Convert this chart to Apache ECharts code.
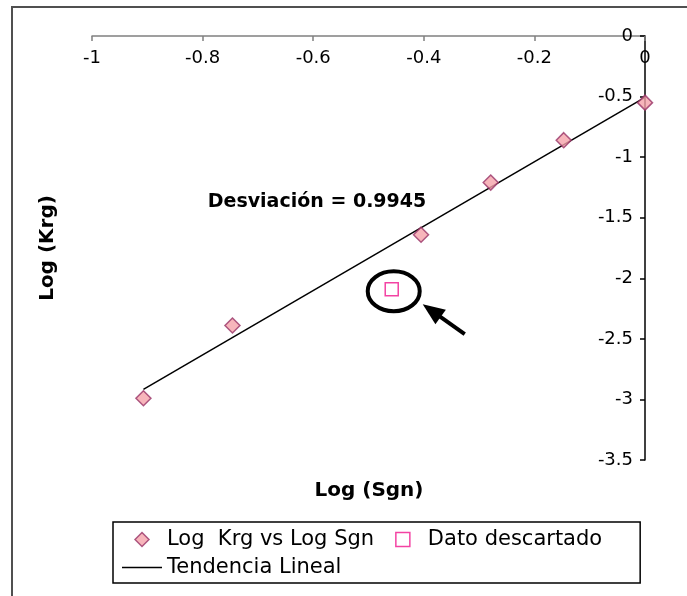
<!DOCTYPE html>
<html>
<head>
<meta charset="utf-8">
<script src="https://cdn.jsdelivr.net/npm/echarts@6/dist/echarts.min.js"></script>
<style>
  html, body { margin: 0; padding: 0; background: #fff; }
  #chart { width: 687px; height: 596px; }
</style>
</head>
<body>
<div id="chart"></div>
<script>
// Measured points (log10 scale)
const logSgn = [-0.907, -0.746, -0.405, -0.279, -0.147, 0.0];
const logKrg = [-2.99, -2.39, -1.64, -1.21, -0.86, -0.55];
// Point left out of the fit
const discardedSgn = [-0.458];
const discardedKrg = [-2.09];
// Axis ranges and tick steps
const xRange = [-1, 0];
const xStep = 0.2;
const yRange = [-3.5, 0];
const yStep = 0.5;
// Texts
const seriesNames = ['Log  Krg vs Log Sgn', 'Dato descartado', 'Tendencia Lineal'];
const xTitle = 'Log (Sgn)';
const yTitle = 'Log (Krg)';
const fitLabel = 'Desviación = 0.9945';

// Least-squares straight line through the measured points
function linearFit(xs, ys) {
  const n = xs.length;
  const mx = xs.reduce((a, b) => a + b, 0) / n;
  const my = ys.reduce((a, b) => a + b, 0) / n;
  let sxy = 0, sxx = 0;
  for (let i = 0; i < n; i++) {
    sxy += (xs[i] - mx) * (ys[i] - my);
    sxx += (xs[i] - mx) * (xs[i] - mx);
  }
  const slope = sxy / sxx;
  return { slope, intercept: my - slope * mx };
}
const fit = linearFit(logSgn, logKrg);
const xLo = Math.min(...logSgn), xHi = Math.max(...logSgn);
const trendData = [[xLo, fit.slope * xLo + fit.intercept], [xHi, fit.slope * xHi + fit.intercept]];

const FONT = 'DejaVu Sans';
const DIAMOND_FILL = '#f5a3aa', DIAMOND_EDGE = '#993366', SQUARE_EDGE = '#f0148c';
const chart = echarts.init(document.getElementById('chart'), null, { renderer: 'canvas' });

chart.setOption({
  backgroundColor: '#fff',
  animation: false,
  grid: { left: 92, right: 42, top: 36, bottom: 136, containLabel: false },
  xAxis: {
    type: 'value', position: 'top', min: xRange[0], max: xRange[1], interval: xStep,
    axisLine: { onZero: false, lineStyle: { color: '#808080', width: 1.5 } },
    axisTick: { inside: true, length: 5, lineStyle: { color: '#808080', width: 1.5 } },
    axisLabel: { inside: true, margin: 13, color: '#000', fontFamily: FONT, fontSize: 18 },
    splitLine: { show: false }
  },
  yAxis: {
    type: 'value', position: 'right', min: yRange[0], max: yRange[1], interval: yStep,
    axisLine: { onZero: false, lineStyle: { color: '#000', width: 1.5 } },
    axisTick: { inside: true, length: 5, lineStyle: { color: '#000', width: 1.5 } },
    axisLabel: { inside: true, margin: 12, color: '#000', fontFamily: FONT, fontSize: 18 },
    splitLine: { show: false }
  },
  legend: {
    left: 113, top: 522,
    width: 520,
    orient: 'horizontal',
    padding: [7, 24, 5, 9],
    borderColor: '#000', borderWidth: 1.5,
    itemWidth: 40, itemHeight: 14, itemGap: 7,
    symbolKeepAspect: true,
    textStyle: { color: '#000', fontFamily: FONT, fontSize: 21, lineHeight: 16, padding: [0, 14, 0, 0] },
    data: [
      { name: seriesNames[0], icon: 'path://M7 0L14 7L7 14L0 7Z',
        itemStyle: { color: DIAMOND_FILL, borderColor: DIAMOND_EDGE, borderWidth: 1.5 } },
      { name: seriesNames[1], icon: 'path://M0 0H12V12H0Z',
        itemStyle: { color: '#fff', borderColor: SQUARE_EDGE, borderWidth: 1.5 } },
      { name: seriesNames[2], icon: 'path://M0 0H40V1.5H0Z',
        itemStyle: { color: '#000', borderWidth: 0 } }
    ]
  },
  series: [
    {
      name: seriesNames[2], type: 'line', data: trendData,
      symbol: 'none', z: 1,
      itemStyle: { color: '#000' },
      lineStyle: { color: '#000', width: 1.5 }
    },
    {
      name: seriesNames[0], type: 'scatter', z: 3,
      data: logSgn.map((x, i) => [x, logKrg[i]]),
      symbol: 'diamond', symbolSize: 15,
      itemStyle: { color: DIAMOND_FILL, borderColor: DIAMOND_EDGE, borderWidth: 1.5 }
    },
    {
      name: seriesNames[1], type: 'scatter', z: 3,
      data: discardedSgn.map((x, i) => [x, discardedKrg[i]]),
      symbol: 'rect', symbolSize: 13,
      itemStyle: { color: '#fff', borderColor: SQUARE_EDGE, borderWidth: 1.5 }
    }
  ]
});

// Annotations: axis titles, fit label, ellipse + arrow around the discarded point
const p = chart.convertToPixel({ seriesIndex: 2 }, [discardedSgn[0], discardedKrg[0]]);
const cx = p[0] + 2, cy = p[1] + 2;
const tipX = cx + 29, tipY = cy + 13;
const tailX = cx + 71, tailY = cy + 43;
const ang = Math.atan2(tailY - tipY, tailX - tipX);
const headLen = 22, headHalf = 9;
const bx = tipX + headLen * Math.cos(ang), by = tipY + headLen * Math.sin(ang);
const nx = -Math.sin(ang) * headHalf, ny = Math.cos(ang) * headHalf;

chart.setOption({
  graphic: [
    {
      type: 'rect', silent: true, z: -10,
      shape: { x: 12, y: 7, width: 700, height: 620 },
      style: { fill: 'none', stroke: '#505050', lineWidth: 2 }
    },
    {
      type: 'text', silent: true,
      style: { text: xTitle, x: 369, y: 491, align: 'center', verticalAlign: 'middle',
               font: 'bold 20px "DejaVu Sans"', fill: '#000' }
    },
    {
      type: 'text', silent: true, x: 48, y: 248, rotation: Math.PI / 2,
      style: { text: yTitle, x: 0, y: 0, align: 'center', verticalAlign: 'middle',
               font: 'bold 20px "DejaVu Sans"', fill: '#000' }
    },
    {
      type: 'text', silent: true,
      style: { text: fitLabel, x: 317, y: 202, align: 'center', verticalAlign: 'middle',
               font: 'bold 19px "DejaVu Sans"', fill: '#000' }
    },
    {
      type: 'ellipse', silent: true,
      shape: { cx: cx, cy: cy, rx: 26, ry: 20 },
      style: { fill: 'none', stroke: '#000', lineWidth: 4 }
    },
    {
      type: 'line', silent: true,
      shape: { x1: bx - 2 * Math.cos(ang), y1: by - 2 * Math.sin(ang), x2: tailX, y2: tailY },
      style: { stroke: '#000', lineWidth: 4 }
    },
    {
      type: 'polygon', silent: true,
      shape: { points: [[tipX, tipY], [bx + nx, by + ny], [bx - nx, by - ny]] },
      style: { fill: '#000' }
    }
  ]
});
</script>
</body>
</html>
